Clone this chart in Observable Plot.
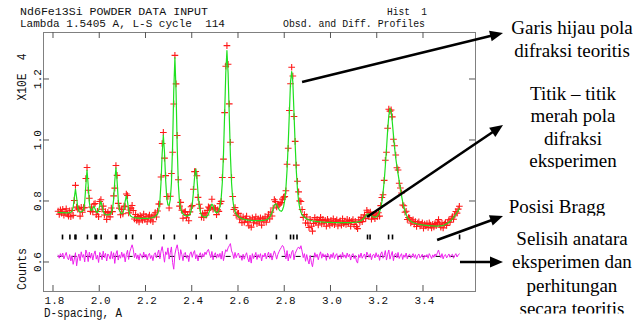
<!DOCTYPE html>
<html><head><meta charset="utf-8">
<script src="https://cdn.jsdelivr.net/npm/d3@7"></script>
<script src="https://cdn.jsdelivr.net/npm/@observablehq/plot@0.6"></script>
<style>
body{margin:0;background:#fff;}
#chart svg{display:block;}
</style></head><body><div id="chart"></div>
<script>
// Sampling grid of the profile (d-spacing, Angstrom)
const dStart = 1.820, dStep = 0.005;
// Calculated profile (counts)
const calcCounts = [
7642,7640,7637,7635,7633,7632,7630,7629,7630,7632,
7637,7649,7684,7804,8124,8407,8126,7803,7686,7659,
7657,7678,7736,7973,8543,9023,8540,7967,7735,7705,
7776,7841,7755,7656,7633,7701,7868,7999,7858,7679,
7597,7572,7563,7564,7569,7587,7626,7739,8063,8670,
9101,8667,8059,7734,7624,7598,7627,7759,8010,8184,
7995,7726,7573,7513,7490,7476,7468,7463,7460,7455,
7453,7449,7449,7449,7446,7446,7446,7446,7451,7454,
7459,7466,7477,7492,7513,7543,7597,7708,7998,8631,
9582,10174,9612,8697,8106,7884,7876,8054,8608,9817,
11619,12721,11606,9786,8554,7968,7750,7651,7590,7557,
7537,7527,7528,7541,7579,7677,7896,8290,8788,9062,
8785,8284,7879,7659,7555,7514,7494,7488,7496,7525,
7591,7702,7838,7916,7860,7744,7658,7628,7644,7705,
7830,8093,8617,9528,10855,12216,12950,12218,10852,9523,
8607,8076,7807,7669,7591,7540,7499,7474,7455,7438,
7424,7413,7404,7398,7391,7387,7382,7381,7374,7372,
7370,7370,7370,7370,7370,7373,7376,7380,7384,7392,
7401,7417,7441,7485,7552,7645,7757,7879,7926,7911,
7823,7742,7696,7678,7719,7831,8040,8430,9032,9895,
10906,11919,12261,11914,10897,9881,9012,8403,8005,7782,
7648,7566,7521,7481,7455,7433,7410,7398,7384,7376,
7367,7359,7352,7348,7343,7339,7334,7331,7327,7325,
7321,7320,7319,7318,7315,7314,7313,7312,7311,7310,
7310,7309,7309,7306,7307,7305,7305,7305,7306,7306,
7306,7306,7309,7310,7311,7313,7318,7320,7325,7331,
7337,7351,7371,7400,7436,7481,7528,7571,7592,7585,
7562,7531,7508,7491,7489,7495,7525,7573,7652,7786,
7979,8279,8662,9162,9734,10333,10817,11052,10961,10615,
10183,9768,9425,9156,8904,8666,8421,8190,7985,7810,
7679,7570,7489,7435,7386,7356,7330,7312,7296,7284,
7271,7262,7254,7247,7239,7233,7227,7223,7218,7214,
7211,7207,7205,7202,7200,7197,7195,7196,7195,7197,
7198,7198,7205,7215,7230,7248,7268,7292,7320,7352,
7390,7432,7478,7528,7582,7640,7700,7762
];
// Difference observed - calculated (counts)
const diffCounts = [
40,-60,90,-20,110,-80,30,130,-40,-110,
60,-150,20,-260,-90,120,-310,-50,80,-140,
150,-30,60,-180,210,90,-170,140,-60,110,
-120,70,180,-90,40,-200,130,60,-110,170,
-40,100,-150,80,20,-90,160,-70,120,-230,
80,190,-120,50,-60,140,-30,90,-180,60,
200,-100,150,270,380,230,-40,110,-80,50,
-120,90,20,-60,140,-30,70,-110,40,100,
-70,30,-140,60,120,-50,90,210,-80,170,
320,90,-190,150,60,280,-90,120,310,-200,
-420,70,250,380,160,-120,220,60,-140,90,
130,-60,40,-170,80,150,-30,110,190,-80,
60,-150,30,120,-70,90,-20,140,60,180,
230,90,-40,160,-110,50,120,-60,80,-30,
100,-90,170,-140,60,220,160,280,350,420,
180,90,-70,130,-40,60,110,-50,20,-130,
70,-90,30,120,-60,-180,40,-220,90,-70,
20,130,-100,60,-40,90,-150,50,-20,110,
-80,40,140,-60,100,-120,30,180,70,-90,
60,150,230,290,360,310,120,-80,190,-150,
80,-60,140,200,-110,90,180,260,310,240,
350,170,-40,90,-160,60,-120,-250,30,-190,
-340,-80,120,-30,70,-110,40,150,-60,90,
-20,60,-130,100,30,-90,70,-40,120,-70,
40,90,-110,20,60,-80,130,-30,50,-60,
110,-20,70,-120,40,90,-70,30,-150,-220,
60,-40,110,-60,20,80,-90,140,50,-30,
90,-110,40,70,-50,120,-20,60,-130,80,
150,-60,30,190,-120,70,210,-90,40,160,
-140,60,100,-50,130,-70,20,90,-100,50,
-30,110,-80,40,70,-60,20,90,-40,60,
-90,30,80,-50,10,70,-100,40,-20,60,
-60,90,20,-70,50,-30,80,10,120,210,
60,-40,90,-80,30,60,-50,20,80,-30,
40,70,-60,30,90,-20,50,80
];
const diffOffset = 6200; // counts level of the difference curve
// Bragg reflection positions (d, Angstrom)
const braggD = [1.839,1.871,1.893,1.897,1.947,1.980,1.986,2.006,2.068,2.073,2.114,2.142,2.222,2.277,2.323,2.417,2.482,2.548,2.764,2.825,2.838,2.853,3.158,3.169,3.249,3.266,3.556];
const xTicks = [1.8,2.0,2.2,2.4,2.6,2.8,3.0,3.2,3.4];
const yTicks = [0.6,0.8,1.0,1.2];
const xDomain = [1.7568, 3.6249];
const yDomain = [0.5049, 1.3541];
const headerLeft = ["Nd6Fe13Si POWDER DATA INPUT", "Lambda 1.5405 A, L-S cycle  114"];
const headerRight = ["Hist  1", "Obsd. and Diff. Profiles"];
const xLabel = "D-spacing, A";
const yLabelTop = "X10E  4";
const yLabelBottom = "Counts";
const notes = [
  {lines: ["Garis hijau pola", "difraksi teoritis"]},
  {lines: ["Titik \u2013 titik", "merah pola", "difraksi", "eksperimen"]},
  {lines: ["Posisi Bragg"]},
  {lines: ["Selisih anatara", "eksperimen dan", "perhitungan", "secara teoritis"]}
];
// annotation arrows, in data units (d, counts x 1e4)
const arrows = [
  {x1: 2.877, y1: 1.190, x2: 3.746, y2: 1.351},
  {x1: 3.158, y1: 0.7475, x2: 3.746, y2: 1.049},
  {x1: 3.461, y1: 0.672, x2: 3.746, y2: 0.7508},
  {x1: 3.560, y1: 0.600, x2: 3.746, y2: 0.600}
];

(function () {
const n = Math.min(calcCounts.length, diffCounts.length);
const rows = [];
for (let i = 0; i < n; i++) {
  rows.push({
    d: +(dStart + i * dStep).toFixed(3),
    calc: calcCounts[i] / 1e4,
    obs: (calcCounts[i] + diffCounts[i]) / 1e4,
    diff: (diffOffset + diffCounts[i]) / 1e4
  });
}

const plot = Plot.plot({
  width: 637, height: 321,
  marginLeft: 43, marginRight: 162, marginTop: 32, marginBottom: 30,
  x: {domain: xDomain, axis: null},
  y: {domain: yDomain, axis: null},
  style: {background: "#fff", overflow: "visible"},
  marks: [
    Plot.ruleY([diffOffset / 1e4], {x1: rows[0].d, x2: rows[rows.length - 1].d, stroke: "#000", strokeWidth: 1, strokeDasharray: "5,9"}),
    Plot.line(rows, {x: "d", y: "diff", stroke: "#ee22ee", strokeWidth: 1}),
    Plot.ruleX(braggD, {y1: 0.674, y2: 0.690, stroke: "#000", strokeWidth: 1.6}),
    Plot.dot(rows, {x: "d", y: "obs", symbol: "plus", r: 2.3, stroke: "#ff1a1a", strokeWidth: 1.1}),
    Plot.line(rows, {x: "d", y: "calc", stroke: "#1fe01f", strokeWidth: 1.2}),
    Plot.frame({stroke: "#808080"})
  ]
});
document.getElementById("chart").appendChild(plot);

const sx = plot.scale("x"), sy = plot.scale("y");
const X = v => sx.apply(v), Y = v => sy.apply(v);
const fL = sx.range[0], fR = sx.range[1];
const fB = sy.range[0], fT = sy.range[1];
const svg = d3.select(plot);
const mono = "'Liberation Mono', 'DejaVu Sans Mono', monospace";
const g = svg.append("g");

// inward ticks on all four sides
const tk = g.append("g").attr("stroke", "#555").attr("stroke-width", 1);
xTicks.forEach(v => {
  tk.append("line").attr("x1", X(v)).attr("x2", X(v)).attr("y1", fT).attr("y2", fT + 6);
  tk.append("line").attr("x1", X(v)).attr("x2", X(v)).attr("y1", fB).attr("y2", fB - 6);
});
yTicks.forEach(v => {
  tk.append("line").attr("x1", fL).attr("x2", fL + 6).attr("y1", Y(v)).attr("y2", Y(v));
  tk.append("line").attr("x1", fR).attr("x2", fR - 6).attr("y1", Y(v)).attr("y2", Y(v));
});

const txt = g.append("g").attr("font-family", mono).attr("fill", "#111");
xTicks.forEach(v => {
  txt.append("text").attr("x", X(v) + 1.5).attr("y", fB + 13).attr("text-anchor", "middle")
    .attr("font-size", 11).text(d3.format(".1f")(v));
});
yTicks.forEach(v => {
  txt.append("text").attr("transform", `translate(${fL - 2},${Y(v)}) rotate(-90)`)
    .attr("text-anchor", "middle").attr("font-size", 11).text(d3.format(".1f")(v));
});
txt.append("text").attr("transform", `translate(26,77) rotate(-90)`).attr("text-anchor", "middle")
  .attr("font-size", 12).attr("textLength", 47).attr("lengthAdjust", "spacingAndGlyphs").text(yLabelTop);
txt.append("text").attr("transform", `translate(26,269) rotate(-90)`).attr("text-anchor", "middle")
  .attr("font-size", 12).attr("textLength", 42).attr("lengthAdjust", "spacingAndGlyphs").text(yLabelBottom);
txt.append("text").attr("x", 44).attr("y", 317).attr("font-size", 12).attr("text-anchor", "start")
  .attr("textLength", 78).attr("lengthAdjust", "spacingAndGlyphs").text(xLabel);

// header
const hl = [{t: headerLeft[0], x: 20, y: 15, w: 188}, {t: headerLeft[1], x: 20, y: 27, w: 205},
            {t: headerRight[0], x: 387, y: 15, w: 40}, {t: headerRight[1], x: 283, y: 27, w: 142}];
hl.forEach(h => txt.append("text").attr("x", h.x).attr("y", h.y).attr("font-size", 10.5).attr("text-anchor", "start")
  .attr("textLength", h.w).attr("lengthAdjust", "spacingAndGlyphs").text(h.t));

// right-side notes
const defs = svg.append("defs");
const blocks = [
  {cx: 572, y0: 34, dy: 23, clip: null},
  {cx: 573, y0: 100, dy: 22.4, clip: 168.5},
  {cx: 557, y0: 213, dy: 22, clip: 215.8},
  {cx: 572, y0: 245, dy: 23.4, clip: 313.5}
];
notes.forEach((nt, k) => {
  const b = blocks[k];
  const grp = g.append("g").attr("font-family", "'Liberation Serif', 'DejaVu Serif', serif")
    .attr("font-size", 19).attr("fill", "#000").attr("text-anchor", "middle");
  if (b.clip) {
    const id = "clipnote" + k;
    defs.append("clipPath").attr("id", id).append("rect")
      .attr("x", 480).attr("y", b.y0 - 30).attr("width", 160).attr("height", b.clip - (b.y0 - 30));
    grp.attr("clip-path", `url(#${id})`);
  }
  nt.lines.forEach((ln, j) => grp.append("text").attr("x", b.cx).attr("y", b.y0 + j * b.dy).text(ln));
});

// annotation arrows
const ag = g.append("g");
arrows.forEach(a => {
  const x1 = X(a.x1), y1 = Y(a.y1), x2 = X(a.x2), y2 = Y(a.y2);
  const dx = x2 - x1, dy = y2 - y1, L = Math.hypot(dx, dy), ux = dx / L, uy = dy / L;
  const hl2 = 13, hw = 5.5;
  const bx = x2 - ux * hl2, by = y2 - uy * hl2;
  ag.append("line").attr("x1", x1).attr("y1", y1).attr("x2", bx + ux * 2).attr("y2", by + uy * 2)
    .attr("stroke", "#000").attr("stroke-width", 2.6);
  ag.append("polygon").attr("points",
    `${x2},${y2} ${bx - uy * hw},${by + ux * hw} ${bx + uy * hw},${by - ux * hw}`).attr("fill", "#000");
});
})();
</script>
</body></html>
